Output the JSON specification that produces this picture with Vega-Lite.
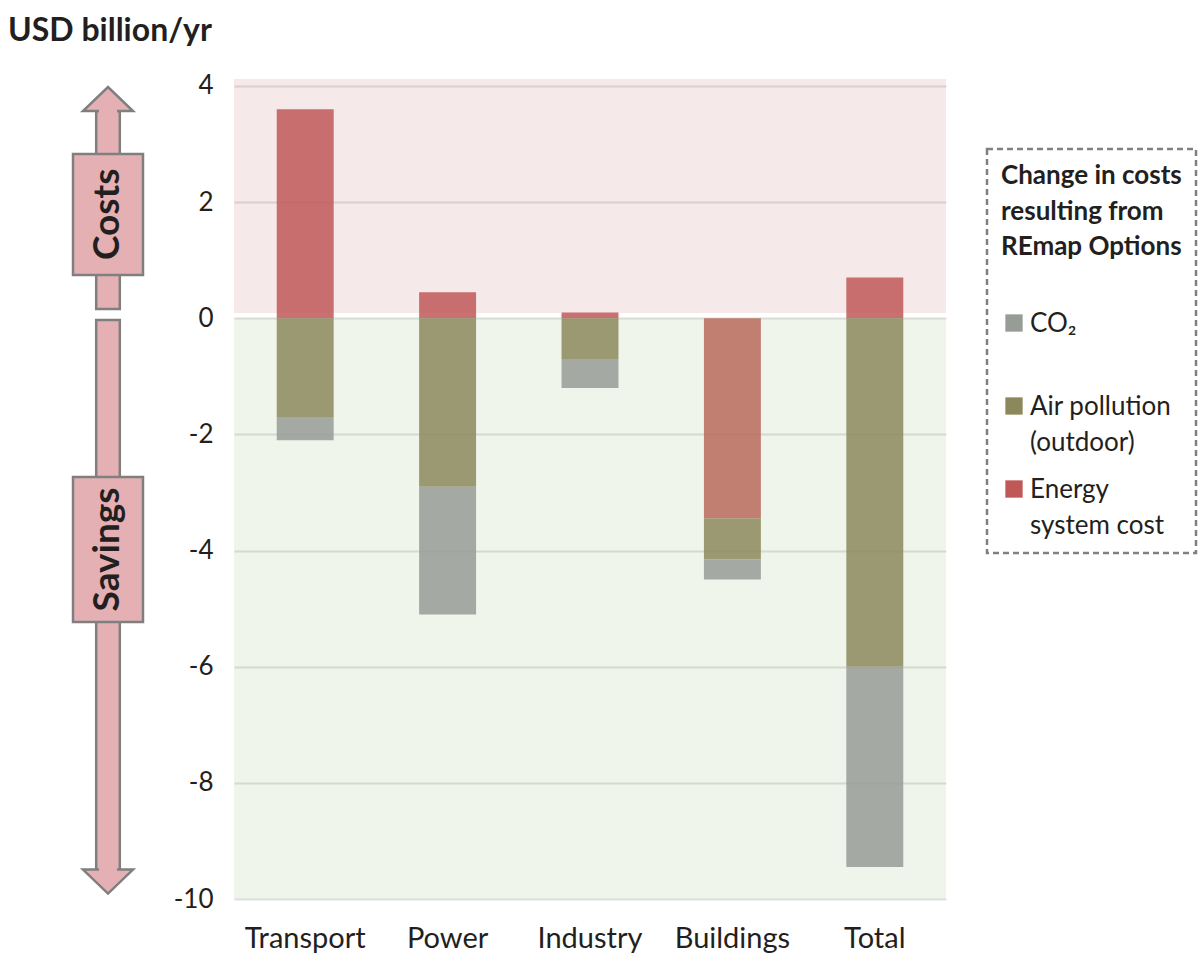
{
  "$schema": "https://vega.github.io/schema/vega-lite/v6.json",
  "padding": {"left": 8, "top": 14, "right": 0, "bottom": 0},
  "background": "white",
  "title": {"text": "USD billion/yr", "anchor": "start", "font": "Lato", "fontSize": 32, "fontWeight": "bold", "color": "#231f20", "offset": 25, "frame": "bounds"},
  "datasets": {
    "shafts": [
      {"x1": -0.59, "x2": 0.59, "y1": 3.57, "y2": 0.16},
      {"x1": -0.59, "x2": 0.59, "y1": -0.03, "y2": -9.5}
    ],
    "heads": [
      {"dir": "up", "x": 0, "y": 3.776},
      {"dir": "down", "x": 0, "y": -9.7}
    ],
    "patches": [
      {"x1": -0.45, "x2": 0.45, "y1": 3.64, "y2": 3.5},
      {"x1": -0.45, "x2": 0.45, "y1": -9.43, "y2": -9.57}
    ],
    "boxes": [
      {"x1": -1.75, "x2": 1.75, "y1": 2.83, "y2": 0.745},
      {"x1": -1.75, "x2": 1.75, "y1": -2.733, "y2": -5.23}
    ],
    "arrowLabels": [
      {"label": "Costs", "x": 0, "y": 1.79},
      {"label": "Savings", "x": 0, "y": -3.98}
    ],
    "zones": [
      {"zone": "Costs", "top": 4.12, "bottom": 0.09},
      {"zone": "Savings", "top": 0, "bottom": -10}
    ],
    "bars": [
      {"sector": "Transport", "component": "Energy system cost", "value": 3.6, "rank": 1},
      {"sector": "Transport", "component": "Air pollution (outdoor)", "value": -1.7, "rank": 2},
      {"sector": "Transport", "component": "CO₂", "value": -0.4, "rank": 3},
      {"sector": "Power", "component": "Energy system cost", "value": 0.45, "rank": 1},
      {"sector": "Power", "component": "Air pollution (outdoor)", "value": -2.9, "rank": 2},
      {"sector": "Power", "component": "CO₂", "value": -2.2, "rank": 3},
      {"sector": "Industry", "component": "Energy system cost", "value": 0.1, "rank": 1},
      {"sector": "Industry", "component": "Air pollution (outdoor)", "value": -0.7, "rank": 2},
      {"sector": "Industry", "component": "CO₂", "value": -0.5, "rank": 3},
      {"sector": "Buildings", "component": "Energy system cost", "value": -3.45, "rank": 1},
      {"sector": "Buildings", "component": "Air pollution (outdoor)", "value": -0.7, "rank": 2},
      {"sector": "Buildings", "component": "CO₂", "value": -0.35, "rank": 3},
      {"sector": "Total", "component": "Energy system cost", "value": 0.7, "rank": 1},
      {"sector": "Total", "component": "Air pollution (outdoor)", "value": -6.0, "rank": 2},
      {"sector": "Total", "component": "CO₂", "value": -3.45, "rank": 3}
    ]
  },
  "spacing": 5,
  "hconcat": [
    {
      "width": 160,
      "height": 820,
      "layer": [
        {
          "data": {"name": "shafts"},
          "mark": {"type": "rect", "fill": "#e4b0b3", "stroke": "#7f7f7f", "strokeWidth": 2.5},
          "encoding": {
            "x": {"field": "x1", "type": "quantitative", "scale": {"domain": [-5, 3], "nice": false, "zero": false}, "axis": null},
            "x2": {"field": "x2"},
            "y": {"field": "y1", "type": "quantitative", "scale": {"domain": [-10, 4.12], "nice": false, "zero": false}, "axis": null},
            "y2": {"field": "y2"}
          }
        },
        {
          "data": {"name": "heads"},
          "mark": {"type": "point", "filled": true, "fill": "#e4b0b3", "stroke": "#7f7f7f", "strokeWidth": 2.5, "size": 2500, "opacity": 1, "fillOpacity": 1, "strokeOpacity": 1},
          "encoding": {
            "x": {"field": "x", "type": "quantitative", "scale": {"domain": [-5, 3], "nice": false, "zero": false}, "axis": null},
            "y": {"field": "y", "type": "quantitative", "scale": {"domain": [-10, 4.12], "nice": false, "zero": false}, "axis": null},
            "shape": {"field": "dir", "type": "nominal", "scale": {"domain": ["up", "down"], "range": ["M-1,0.48L1,0.48L0,-0.48Z", "M-1,-0.48L1,-0.48L0,0.48Z"]}, "legend": null}
          }
        },
        {
          "data": {"name": "patches"},
          "mark": {"type": "rect", "fill": "#e4b0b3", "strokeWidth": 0},
          "encoding": {
            "x": {"field": "x1", "type": "quantitative", "scale": {"domain": [-5, 3], "nice": false, "zero": false}, "axis": null},
            "x2": {"field": "x2"},
            "y": {"field": "y1", "type": "quantitative", "scale": {"domain": [-10, 4.12], "nice": false, "zero": false}, "axis": null},
            "y2": {"field": "y2"}
          }
        },
        {
          "data": {"name": "boxes"},
          "mark": {"type": "rect", "fill": "#e4b0b3", "stroke": "#7f7f7f", "strokeWidth": 2.5},
          "encoding": {
            "x": {"field": "x1", "type": "quantitative", "scale": {"domain": [-5, 3], "nice": false, "zero": false}, "axis": null},
            "x2": {"field": "x2"},
            "y": {"field": "y1", "type": "quantitative", "scale": {"domain": [-10, 4.12], "nice": false, "zero": false}, "axis": null},
            "y2": {"field": "y2"}
          }
        },
        {
          "data": {"name": "arrowLabels"},
          "mark": {"type": "text", "angle": 270, "align": "center", "baseline": "middle", "font": "Lato", "fontSize": 37, "fontWeight": "bold", "color": "#231f20"},
          "encoding": {
            "x": {"field": "x", "type": "quantitative", "scale": {"domain": [-5, 3], "nice": false, "zero": false}, "axis": null},
            "y": {"field": "y", "type": "quantitative", "scale": {"domain": [-10, 4.12], "nice": false, "zero": false}, "axis": null},
            "text": {"field": "label"}
          }
        }
      ]
    },
    {
      "width": 712,
      "height": 820,
      "layer": [
        {
          "data": {"name": "zones"},
          "mark": {"type": "rect", "fillOpacity": 0.15},
          "encoding": {
            "y": {
              "field": "top", "type": "quantitative",
              "scale": {"domain": [-10, 4.12], "nice": false, "zero": false},
              "axis": {"values": [-10, -8, -6, -4, -2, 0, 2, 4], "labelExpr": "'' + datum.value", "title": null, "domain": false, "ticks": false, "grid": true, "gridColor": "#e0e0e0", "gridWidth": 2, "labelFont": "Lato", "labelFontSize": 26, "labelColor": "#231f20", "labelPadding": 21}
            },
            "y2": {"field": "bottom"},
            "color": {"condition": {"test": "datum.zone == 'Costs'", "value": "#c36c73"}, "value": "#9bbc80"}
          }
        },
        {
          "data": {"name": "bars"},
          "mark": {"type": "bar", "opacity": 0.85},
          "encoding": {
            "x": {
              "field": "sector", "type": "nominal",
              "sort": ["Transport", "Power", "Industry", "Buildings", "Total"],
              "scale": {"paddingInner": 0.6, "paddingOuter": 0.3},
              "axis": {"title": null, "domain": false, "ticks": false, "labelAngle": 0, "labelFont": "Lato", "labelFontSize": 29, "labelColor": "#231f20", "labelPadding": 25}
            },
            "y": {"field": "value", "type": "quantitative", "stack": "zero"},
            "order": {"field": "rank", "type": "quantitative"},
            "color": {
              "condition": {"test": "datum.sector == 'Buildings' && datum.component == 'Energy system cost'", "value": "#b86a5c"},
              "field": "component", "type": "nominal",
              "scale": {"domain": ["CO₂", "Air pollution (outdoor)", "Energy system cost"], "range": ["#979c96", "#8c885c", "#c05858"]},
              "legend": {
                "title": ["Change in costs", "resulting from", "REmap Options"],
                "orient": "none", "legendX": 979, "legendY": 70,
                "titleFont": "Lato", "titleFontSize": 26, "titleFontWeight": "bold", "titleColor": "#231f20", "titleLineHeight": 35.5, "titlePadding": 50, "titleLimit": 400,
                "labelFont": "Lato", "labelFontSize": 26, "labelColor": "#231f20", "labelLimit": 300, "labelOffset": 3, "labelBaseline": "alphabetic",
                "labelExpr": "datum.label == 'Air pollution (outdoor)' ? ['Air pollution', '(outdoor)'] : datum.label == 'Energy system cost' ? ['Energy', 'system cost'] : ['CO₂', '']",
                "symbolType": "square", "symbolSize": 300, "symbolOpacity": 1, "symbolStrokeWidth": 0,
                "padding": 14, "rowPadding": 20,
                "encode": {"labels": {"update": {"lineHeight": {"value": 36}, "dy": {"value": 9}}}}
              }
            }
          }
        }
      ]
    }
  ],
  "config": {"view": {"stroke": null}, "font": "Lato", "legend": {"strokeWidth": 2.5, "strokeColor": "#808080", "strokeDash": [6, 4]}}
}
